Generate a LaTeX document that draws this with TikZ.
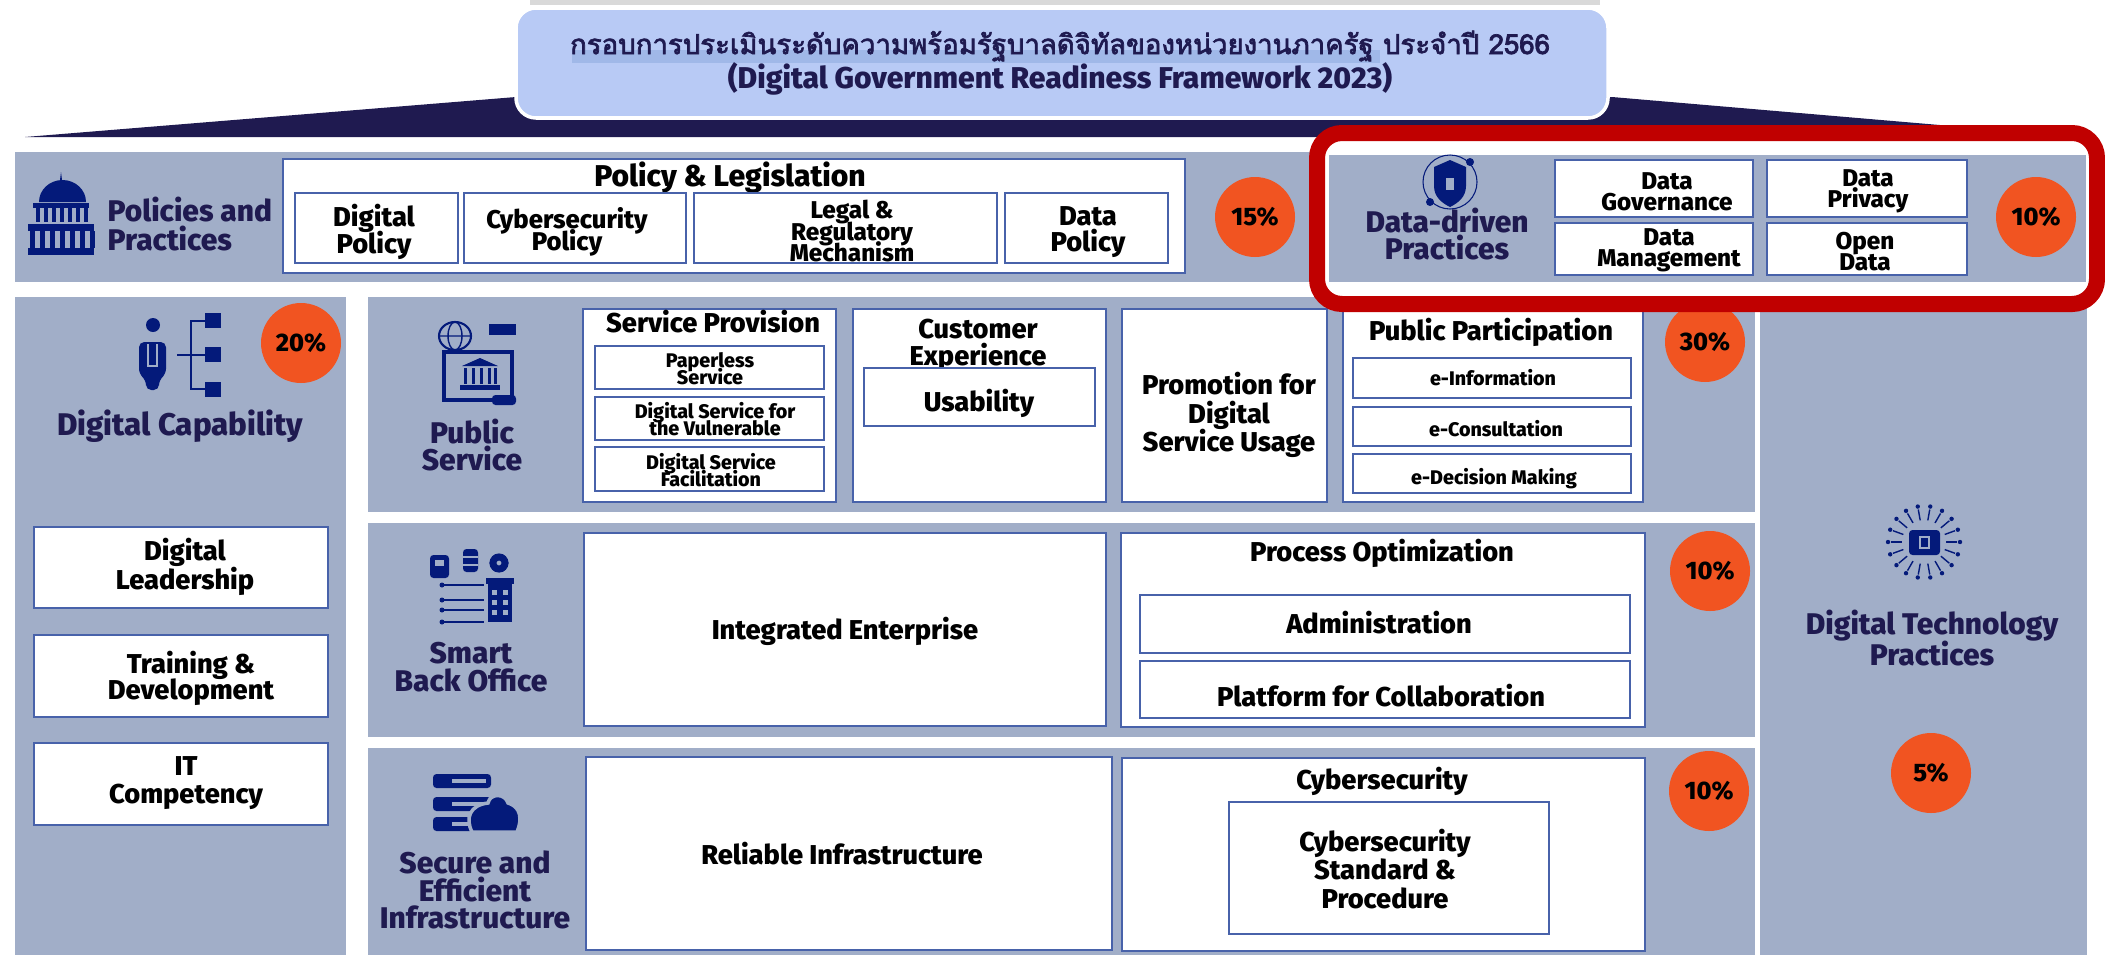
\documentclass[tikz,border=0pt]{standalone}
\usepackage{fontspec}
\setmainfont{Fira Sans}[BoldFont={Fira Sans ExtraBold}]
\newfontfamily\thaifont[Script=Thai,FakeBold=2.5]{Loma}
\usetikzlibrary{calc}
\setlength{\lineskiplimit}{-10pt}
\definecolor{bandGrey}{RGB}{161, 174, 200}
\definecolor{frameBlue}{RGB}{72, 98, 170}
\definecolor{badgeOrange}{RGB}{241, 84, 33}
\definecolor{titleNavy}{RGB}{31, 26, 80}
\definecolor{iconNavy}{RGB}{4, 26, 122}
\definecolor{bannerBlue}{RGB}{184, 202, 245}
\definecolor{markBlue}{RGB}{160, 184, 232}
\definecolor{alertRed}{RGB}{192, 0, 0}
\tikzset{
    bandBox/.style={fill=bandGrey, draw=none},
    whiteBox/.style={fill=white, draw=frameBlue, line width=0.8pt},
    badge/.style={circle, fill=badgeOrange, minimum size=0.8cm, inner sep=0pt, text=black, font=\bfseries\fontsize{7.2}{8}\selectfont},
    areaText/.style={text=titleNavy, align=center, inner sep=0pt, font=\bfseries\fontsize{8.5}{7.9}\selectfont},
    bigText/.style={text=black, align=center, inner sep=0pt, font=\bfseries\fontsize{7.75}{8.2}\selectfont},
    midText/.style={text=black, align=center, inner sep=0pt, font=\bfseries\fontsize{6.9}{6}\selectfont},
    smallText/.style={text=black, align=center, inner sep=0pt, font=\bfseries\fontsize{5.6}{4.9}\selectfont}
}

\begin{document}
\begin{tikzpicture}
    \useasboundingbox (0,0) rectangle (21.05,-9.55);

    \fill[black!15] (5.30,0) rectangle (16.00,-0.05);
    \fill[titleNavy] (0.25,-1.37) -- (5.16,-0.97) -- (16.12,-0.97) -- (20.80,-1.37) -- cycle;
    \draw[white, line width=1pt, fill=bannerBlue, rounded corners=0.2cm] (5.16,-0.08) rectangle (16.08,-1.18);
    \fill[markBlue] (5.72,-0.50) rectangle (13.80,-0.63);
    \node[text=titleNavy, inner sep=0pt, font=\thaifont\fontsize{7.85}{10}\selectfont] (bannerThai) at (10.60,-0.46) {กรอบการประเมินระดับความพร้อมรัฐบาลดิจิทัลของหน่วยงานภาครัฐ ประจำปี 2566};
    \node[text=titleNavy, inner sep=0pt, font=\bfseries\fontsize{8.55}{10}\selectfont] (bannerEng) at (10.60,-0.79) {(Digital Government Readiness Framework 2023)};

    % top band
    \draw[bandBox] (0.15,-1.52) rectangle (13.20,-2.82);
    \fill[iconNavy] (0.39,-2.02) arc (180:0:0.235 and 0.22) -- cycle;
    \fill[iconNavy] (0.61,-1.72) -- (0.595,-1.84) -- (0.625,-1.84) -- cycle;
    \fill[iconNavy] (0.33,-2.03) rectangle (0.89,-2.08);
    \foreach \x in {0.36,0.44,...,0.86} {
        \fill[iconNavy] (\x,-2.08) rectangle (\x+0.04,-2.22);
    }
    \fill[iconNavy] (0.28,-2.24) rectangle (0.94,-2.31);
    \foreach \x in {0.30,0.40,...,0.90} {
        \fill[iconNavy] (\x,-2.31) rectangle (\x+0.05,-2.48);
    }
    \fill[iconNavy] (0.28,-2.48) rectangle (0.94,-2.55);
    \node[areaText, align=left, anchor=west] (policyArea) at (1.07,-2.24) {Policies and\\[0.6pt]Practices};

    \draw[whiteBox] (2.83,-1.59) rectangle (11.85,-2.73);
    \node[bigText, font=\bfseries\fontsize{8.55}{8.2}\selectfont] (policyTitle) at (7.30,-1.78) {Policy \& Legislation};
    \draw[whiteBox] (2.95,-1.93) rectangle (4.58,-2.63);
    \node[bigText] (digitalPolicy) at (3.74,-2.32) {Digital\\[-0.7pt]Policy};
    \draw[whiteBox] (4.64,-1.93) rectangle (6.86,-2.63);
    \node[midText, font=\bfseries\fontsize{7.3}{6.2}\selectfont] (cyberPolicy) at (5.67,-2.32) {Cybersecurity\\Policy};
    \draw[whiteBox] (6.94,-1.93) rectangle (9.97,-2.63);
    \node[midText] (legalBox) at (8.52,-2.31) {Legal \&\\Regulatory\\Mechanism};
    \draw[whiteBox] (10.05,-1.93) rectangle (11.68,-2.63);
    \node[bigText] (dataPolicy) at (10.88,-2.32) {Data\\[-0.7pt]Policy};
    \node[badge] (pctPolicy) at (12.55,-2.17) {15\%};

    % left column
    \draw[bandBox] (0.15,-2.97) rectangle (3.46,-9.55);
    \fill[iconNavy] (1.53,-3.25) circle (0.07);
    \fill[iconNavy, rounded corners=1.5pt] (1.39,-3.42) -- (1.66,-3.42) -- (1.66,-3.74) -- (1.59,-3.80) -- (1.59,-3.90) -- (1.46,-3.90) -- (1.46,-3.80) -- (1.39,-3.74) -- cycle;
    \draw[bandGrey, line width=0.5pt] (1.48,-3.44) -- (1.48,-3.66) -- (1.57,-3.66) -- (1.57,-3.44);
    \draw[iconNavy, line width=0.6pt] (1.77,-3.55) -- (2.05,-3.55) (2.05,-3.21) -- (1.91,-3.21) -- (1.91,-3.89) -- (2.05,-3.89);
    \foreach \y in {-3.13,-3.47,-3.82} {
        \fill[iconNavy] (2.05,\y) rectangle (2.21,\y-0.15);
    }
    \node[badge] (pctCapability) at (3.01,-3.43) {20\%};
    \node[areaText, font=\bfseries\fontsize{8.9}{7.9}\selectfont] (capabilityArea) at (1.80,-4.26) {Digital Capability};
    \draw[whiteBox] (0.34,-5.27) rectangle (3.28,-6.08);
    \node[bigText] (leadership) at (1.85,-5.67) {Digital\\Leadership};
    \draw[whiteBox] (0.34,-6.35) rectangle (3.28,-7.17);
    \node[bigText] (training) at (1.91,-6.78) {Training \&\\[-0.8pt]Development};
    \draw[whiteBox] (0.34,-7.43) rectangle (3.28,-8.25);
    \node[bigText] (competency) at (1.86,-7.83) {IT\\Competency};

    % public service
    \draw[bandBox] (3.68,-2.97) rectangle (17.55,-5.12);
    \draw[iconNavy, line width=0.6pt] (4.55,-3.36) circle (0.16 and 0.14);
    \draw[iconNavy, line width=0.4pt] (4.55,-3.36) ellipse (0.07 and 0.14) (4.39,-3.36) -- (4.71,-3.36);
    \fill[iconNavy] (4.89,-3.24) rectangle (5.16,-3.35);
    \draw[iconNavy, line width=1pt] (4.44,-3.52) rectangle (5.12,-4.00);
    \fill[iconNavy] (4.62,-3.66) -- (4.80,-3.58) -- (4.98,-3.66) -- cycle;
    \foreach \x in {4.64,4.72,4.80,4.88,4.94} {
        \fill[iconNavy] (\x,-3.68) rectangle (\x+0.03,-3.84);
    }
    \fill[iconNavy] (4.60,-3.85) rectangle (5.00,-3.90);
    \fill[iconNavy, rounded corners=1pt] (4.92,-3.95) rectangle (5.16,-4.05);
    \node[areaText] (publicArea) at (4.72,-4.45) {Public\\Service};

    \draw[whiteBox] (5.83,-3.09) rectangle (8.36,-5.02);
    \node[bigText] (serviceTitle) at (7.13,-3.22) {Service Provision};
    \draw[whiteBox] (5.95,-3.46) rectangle (8.24,-3.89);
    \node[smallText] (paperless) at (7.10,-3.69) {Paperless\\Service};
    \draw[whiteBox] (5.95,-3.97) rectangle (8.24,-4.40);
    \node[smallText] (vulnerable) at (7.15,-4.19) {Digital Service for\\the Vulnerable};
    \draw[whiteBox] (5.95,-4.47) rectangle (8.24,-4.91);
    \node[smallText] (facilitation) at (7.11,-4.70) {Digital Service\\Facilitation};

    \draw[whiteBox] (8.53,-3.09) rectangle (11.06,-5.02);
    \node[bigText, font=\bfseries\fontsize{7.75}{7.6}\selectfont] (customerTitle) at (9.78,-3.45) {Customer\\Experience};
    \draw[whiteBox] (8.64,-3.68) rectangle (10.95,-4.26);
    \node[bigText] (usability) at (9.79,-4.03) {Usability};

    \draw[whiteBox] (11.22,-3.09) rectangle (13.27,-5.02);
    \node[bigText] (promotion) at (12.29,-4.15) {Promotion for\\Digital\\Service Usage};

    \draw[whiteBox] (13.43,-3.09) rectangle (16.43,-5.02);
    \node[bigText] (participationTitle) at (14.91,-3.32) {Public Participation};
    \draw[whiteBox] (13.53,-3.58) rectangle (16.31,-3.98);
    \node[smallText] (eInformation) at (14.93,-3.78) {e-Information};
    \draw[whiteBox] (13.53,-4.07) rectangle (16.31,-4.46);
    \node[smallText] (eConsultation) at (14.96,-4.29) {e-Consultation};
    \draw[whiteBox] (13.53,-4.54) rectangle (16.31,-4.93);
    \node[smallText] (eDecision) at (14.94,-4.79) {e-Decision Making};
    \node[badge] (pctPublic) at (17.05,-3.42) {30\%};

    % back office
    \draw[bandBox] (3.68,-5.23) rectangle (17.55,-7.37);
    \fill[iconNavy, rounded corners=1pt] (4.30,-5.55) rectangle (4.49,-5.78);
    \fill[bandGrey] (4.35,-5.60) rectangle (4.44,-5.66);
    \fill[iconNavy, rounded corners=1pt] (4.63,-5.49) rectangle (4.78,-5.72);
    \draw[bandGrey, line width=0.4pt] (4.63,-5.57) -- (4.78,-5.57) (4.63,-5.65) -- (4.78,-5.65);
    \draw[iconNavy, line width=2pt] (4.99,-5.63) circle (0.06);
    \foreach \a in {0,60,...,300} {
        \fill[iconNavy] (4.99,-5.63) ++(\a:0.07) circle (0.025);
    }
    \fill[iconNavy] (4.86,-5.78) rectangle (5.14,-5.84);
    \fill[iconNavy] (4.88,-5.84) rectangle (5.12,-6.22);
    \foreach \y in {-5.90,-6.00,-6.10} {
        \fill[bandGrey] (4.92,\y) rectangle (4.97,\y-0.05);
        \fill[bandGrey] (5.03,\y) rectangle (5.08,\y-0.05);
    }
    \foreach \y in {-5.85,-6.00,-6.10,-6.22} {
        \draw[iconNavy, line width=0.5pt] (4.42,\y) -- (4.84,\y);
        \fill[iconNavy] (4.42,\y) circle (0.025);
    }
    \node[areaText] (backOfficeArea) at (4.71,-6.67) {Smart\\Back Office};

    \draw[whiteBox] (5.84,-5.33) rectangle (11.06,-7.26);
    \node[bigText] (integrated) at (8.45,-6.31) {Integrated Enterprise};
    \draw[whiteBox] (11.21,-5.33) rectangle (16.45,-7.27);
    \node[bigText] (processTitle) at (13.82,-5.53) {Process Optimization};
    \draw[whiteBox] (11.40,-5.95) rectangle (16.30,-6.53);
    \node[bigText] (administration) at (13.79,-6.23) {Administration};
    \draw[whiteBox] (11.40,-6.61) rectangle (16.30,-7.18);
    \node[bigText] (collaboration) at (13.81,-6.96) {Platform for Collaboration};
    \node[badge] (pctBackOffice) at (17.10,-5.71) {10\%};

    % infrastructure
    \draw[bandBox] (3.68,-7.48) rectangle (17.55,-9.55);
    \foreach \y in {-7.74,-7.97,-8.17} {
        \fill[iconNavy, rounded corners=1pt] (4.33,\y) rectangle (4.91,\y-0.14);
        \fill[bandGrey] (4.52,\y-0.05) rectangle (4.86,\y-0.09);
    }
    \draw[fill=iconNavy, draw=bandGrey, line width=1pt] (4.72,-8.32) -- (5.17,-8.32) .. controls (5.25,-8.12) and (5.15,-8.05) .. (5.08,-8.03) .. controls (5.05,-7.93) and (4.90,-7.93) .. (4.88,-8.03) .. controls (4.70,-8.05) and (4.65,-8.18) .. (4.72,-8.32);
    \node[areaText] (infraArea) at (4.75,-8.90) {Secure and\\Efficient\\Infrastructure};

    \draw[whiteBox] (5.86,-7.57) rectangle (11.12,-9.50);
    \node[bigText] (reliable) at (8.42,-8.54) {Reliable Infrastructure};
    \draw[whiteBox] (11.22,-7.58) rectangle (16.45,-9.51);
    \node[bigText] (cyberTitle) at (13.82,-7.81) {Cybersecurity};
    \draw[whiteBox] (12.29,-8.02) rectangle (15.49,-9.34);
    \node[bigText] (cyberStandard) at (13.85,-8.69) {Cybersecurity\\Standard \&\\Procedure};
    \node[badge] (pctInfra) at (17.09,-7.91) {10\%};

    % right column
    \draw[bandBox] (17.60,-2.97) rectangle (20.87,-9.55);
    \foreach \a in {0,20,...,340} {
        \draw[iconNavy, line width=0.4pt] (19.24,-5.42) -- ++(\a:0.33);
        \fill[iconNavy] (19.24,-5.42) ++(\a:0.36) circle (0.022);
    }
    \fill[bandGrey] (19.24,-5.42) circle (0.22);
    \fill[iconNavy, rounded corners=1pt] (19.09,-5.30) rectangle (19.40,-5.55);
    \draw[bandGrey, line width=0.5pt] (19.20,-5.37) rectangle (19.29,-5.48);
    \node[areaText] (technologyArea) at (19.32,-6.38) {Digital Technology\\[0.8pt]Practices};
    \node[badge] (pctTechnology) at (19.31,-7.73) {5\%};

    % highlight frame
    \draw[alertRed, line width=0.16cm, fill=white, rounded corners=0.25cm] (13.17,-1.33) rectangle (20.97,-3.04);
    \draw[bandBox] (13.29,-1.55) rectangle (20.86,-2.82);
    \draw[iconNavy, line width=0.3pt] (14.50,-1.82) circle (0.27);
    \fill[iconNavy] (14.50,-1.60) -- (14.66,-1.67) -- (14.66,-1.86) .. controls (14.66,-1.97) and (14.58,-2.03) .. (14.50,-2.07) .. controls (14.42,-2.03) and (14.34,-1.97) .. (14.34,-1.86) -- (14.34,-1.67) -- cycle;
    \fill[bandGrey] (14.46,-1.78) rectangle (14.54,-1.90);
    \fill[iconNavy] (14.70,-1.62) circle (0.04) (14.30,-2.02) circle (0.04);
    \node[areaText] (dataArea) at (14.47,-2.34) {Data-driven\\Practices};
    \draw[whiteBox] (15.55,-1.60) rectangle (17.53,-2.17);
    \node[midText] (governance) at (16.67,-1.92) {Data\\Governance};
    \draw[whiteBox] (17.67,-1.60) rectangle (19.67,-2.17);
    \node[midText] (privacy) at (18.68,-1.91) {Data\\Privacy};
    \draw[whiteBox] (15.55,-2.23) rectangle (17.53,-2.75);
    \node[midText] (management) at (16.69,-2.50) {Data\\Management};
    \draw[whiteBox] (17.67,-2.23) rectangle (19.67,-2.75);
    \node[midText] (openData) at (18.65,-2.52) {Open\\Data};
    \node[badge] (pctData) at (20.36,-2.17) {10\%};
\end{tikzpicture}
\end{document}
